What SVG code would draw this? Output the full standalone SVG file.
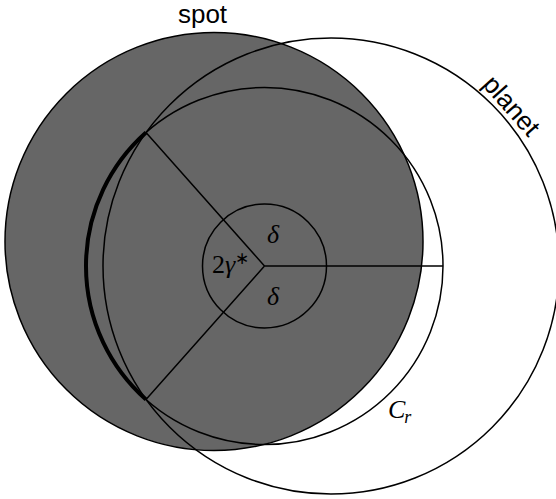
<svg xmlns="http://www.w3.org/2000/svg" width="556" height="499" viewBox="0 0 556 499">
  <style>
    .ln { fill: none; stroke: #000; stroke-width: 1.5; }
    .sans { font-family: "Liberation Sans", Arial, sans-serif; font-size: 26px; fill: #000; }
    .math { font-family: "Liberation Serif", "Times New Roman", serif; font-size: 26px; fill: #000; }
    .it { font-style: italic; }
  </style>
  <rect width="556" height="499" fill="#fff"/>
  <g id="spot">
    <circle cx="214" cy="241.5" r="209" fill="#666666" stroke="#000" stroke-width="1.5"/>
    <text class="sans" x="202.5" y="22.5" text-anchor="middle" font-size="25">spot</text>
  </g>
  <g id="planet">
    <circle class="ln" cx="331" cy="266" r="228"/>
    <text class="sans" transform="translate(505,111.5) rotate(48.4)" text-anchor="middle">planet</text>
  </g>
  <g id="Cr">
    <circle class="ln" cx="264.5" cy="266" r="178.5"/>
    <text class="math it" x="388" y="418">C<tspan font-size="18" dy="5" dx="-1">r</tspan></text>
  </g>
  <g id="angle-circle">
    <circle class="ln" cx="264.5" cy="266" r="62"/>
    <text class="math it" x="273" y="243" text-anchor="middle">δ</text>
    <text class="math it" x="273" y="305" text-anchor="middle">δ</text>
    <text class="math" x="212" y="273">2<tspan class="it">γ</tspan><tspan font-size="17" dy="-9">∗</tspan></text>
  </g>
  <g id="connectors">
    <path class="ln" d="M264.5,266 L146,132.5 M264.5,266 L146,399.5 M264.5,266 L443,266"/>
    <path d="M146,132.5 A178.5,178.5 0 0 0 146,399.5" fill="none" stroke="#000" stroke-width="4"/>
  </g>
</svg>
